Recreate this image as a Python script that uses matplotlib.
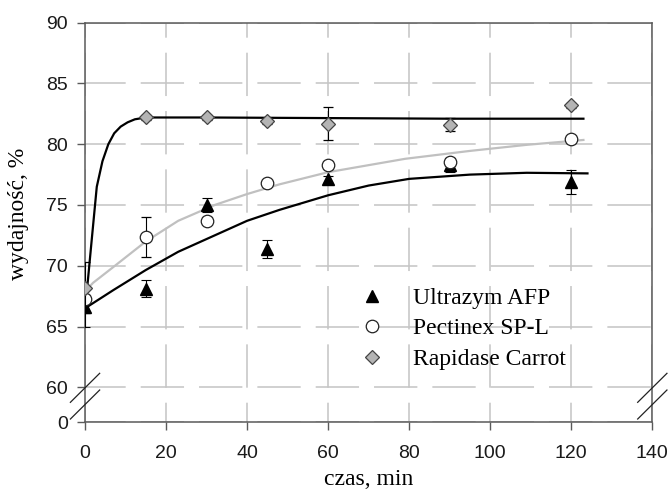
import matplotlib
matplotlib.use('Agg')
import matplotlib.pyplot as plt
from matplotlib.lines import Line2D

# Measured yields (%) after enzyme treatment, with error bars
time_min = [0, 15, 30, 45, 60, 90, 120]
ultrazym = [66.6, 68.1, 75.0, 71.4, 77.1, 78.3, 76.9]
ultrazym_err = [1.6, 0.7, 0.55, 0.75, 0.3, 0.6, 1.0]
pectinex = [67.3, 72.4, 73.7, 76.8, 78.3, 78.55, 80.4]
pectinex_err = [0.3, 1.65, 0.3, 0.2, 0.3, 0.3, 0.3]
rapidase = [68.2, 82.2, 82.2, 81.9, 81.7, 81.6, 83.2]
rapidase_err = [2.1, 0.2, 0.2, 0.2, 1.35, 0.55, 0.2]

# Fitted curves
ultrazym_fit_t = [0, 7, 15, 23, 32, 40, 48, 60, 70, 80, 95, 109, 124]
ultrazym_fit_y = [66.5, 68.0, 69.65, 71.15, 72.5, 73.7, 74.6, 75.8, 76.6, 77.15, 77.5, 77.65, 77.6]
pectinex_fit_t = [0, 2, 7, 15, 23, 32, 40, 48, 60, 79, 95, 109, 123]
pectinex_fit_y = [67.9, 68.6, 69.9, 72.0, 73.7, 75.0, 75.9, 76.7, 77.7, 78.8, 79.45, 79.95, 80.35]
rapidase_fit_t = [0, 1.5, 2.9, 4.3, 5.75, 7.2, 8.8, 10.5, 12.3, 15, 20, 30, 60, 90, 123]
rapidase_fit_y = [66.3, 71.6, 76.5, 78.6, 80.0, 80.9, 81.45, 81.8, 82.05, 82.2, 82.2, 82.2, 82.15, 82.1, 82.1]

series_names = ['Ultrazym AFP', 'Pectinex SP-L', 'Rapidase Carrot']

x_ticks = [0, 20, 40, 60, 80, 100, 120, 140]
y_ticks = [60, 65, 70, 75, 80, 85, 90]
y_floor = 57.12  # broken axis: the bottom of the axis stands for 0

plt.rcParams['lines.scale_dashes'] = False  # dash lengths in points, not linewidths

fig = plt.figure(figsize=(6.7, 4.91), dpi=100)
ax = fig.add_axes((0.1269, 0.1399, 0.8467, 0.8139))

# Curves under the markers
ax.plot(ultrazym_fit_t, ultrazym_fit_y, color='black', lw=1.6, zorder=3)
ax.plot(pectinex_fit_t, pectinex_fit_y, color='#c0c0c0', lw=1.6, zorder=3)
ax.plot(rapidase_fit_t, rapidase_fit_y, color='black', lw=1.6, zorder=3)

diamond_ms = 7.6
err_style = dict(ecolor='black', elinewidth=0.8, capsize=3.6, capthick=0.8, ls='none')
ax.errorbar(time_min, ultrazym, yerr=ultrazym_err, fmt='^', ms=9,
            mfc='black', mec='black', zorder=4, **err_style)
ax.errorbar(time_min, pectinex, yerr=pectinex_err, fmt='o', ms=9,
            mfc='white', mec='#222222', mew=0.9, zorder=5, **err_style)
ax.errorbar(time_min, rapidase, yerr=rapidase_err, fmt='D', ms=diamond_ms,
            mfc='#b4b4b4', mec='#444444', mew=0.9, zorder=6, **err_style)

ax.set_xlim(0, 140)
ax.set_ylim(y_floor, 90)
ax.set_xticks(x_ticks)
ax.set_yticks([y_floor] + y_ticks)
ax.set_yticklabels(['0'] + [str(v) for v in y_ticks])

# Dashed grid, vertical and horizontal dashes start at different phases
ax.set_axisbelow(True)
ax.xaxis.grid(True, color='#c4c4c4', lw=1.1, ls=(17.3, (31.2, 10.8)))
ax.yaxis.grid(True, color='#c4c4c4', lw=1.1, ls=(1.9, (31.2, 10.8)))

for side in ['left', 'right', 'top', 'bottom']:
    ax.spines[side].set_color('#5a5a5a')
    ax.spines[side].set_linewidth(1.1)

ax.tick_params(direction='out', length=5.6, width=1.0, color='#5a5a5a',
               labelsize=14, labelcolor='#1a1a1a', labelfontfamily='Liberation Sans')
ax.tick_params(axis='y', pad=6.5)
ax.tick_params(axis='x', pad=11)

label_font = {'family': 'Liberation Serif', 'size': 17}
ax.set_xlabel('czas, min', fontdict=label_font)
ax.set_ylabel('wydajność, %', fontdict=label_font)
ax.xaxis.set_label_coords(0.5, -0.117)
ax.yaxis.set_label_coords(-0.0996, 0.521)

# Axis break marks on both vertical spines
for x0 in [0, 1]:
    for yc in [0.0863, 0.0445]:
        ax.plot([x0 - 0.0258, x0 + 0.0258], [yc - 0.0363, yc + 0.0363],
                transform=ax.transAxes, color='#222222', lw=0.9, clip_on=False, zorder=7)

handles = [
    Line2D([], [], marker='^', ls='none', ms=9, mfc='black', mec='black'),
    Line2D([], [], marker='o', ls='none', ms=9, mfc='white', mec='#222222', mew=0.9),
    Line2D([], [], marker='D', ls='none', ms=diamond_ms, mfc='#b4b4b4', mec='#444444', mew=0.9),
]
ax.legend(handles, series_names, loc='upper left', bbox_to_anchor=(0.485, 0.3375),
          frameon=False, prop=label_font, handlelength=1.0, handletextpad=1.24,
          labelspacing=0.38, borderpad=0, borderaxespad=0)

fig.savefig('out.png', dpi=100)
